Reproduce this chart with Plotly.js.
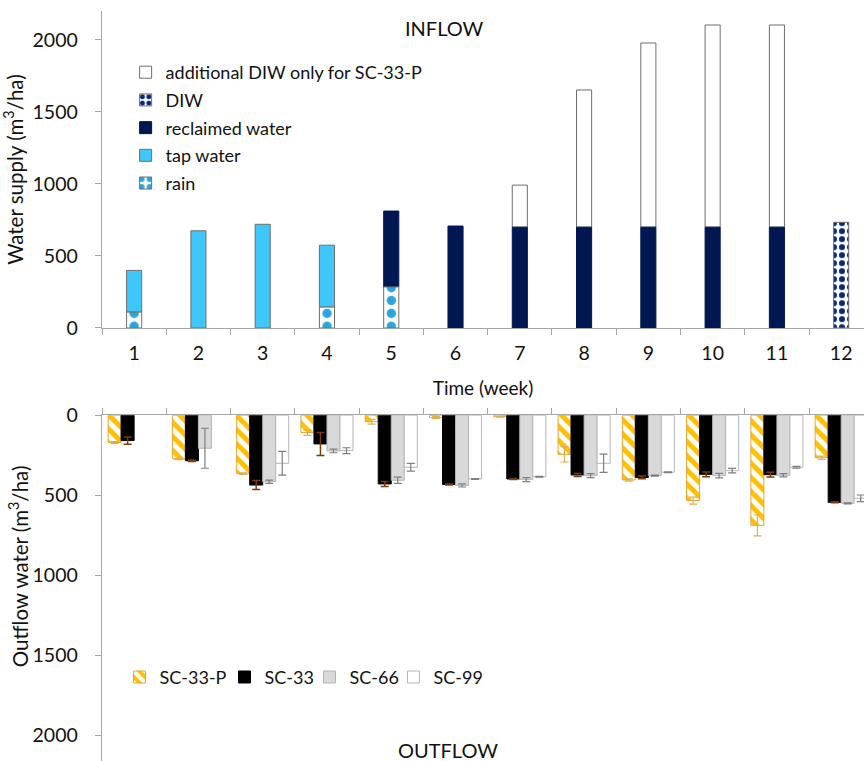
<!DOCTYPE html>
<html>
<head>
<meta charset="utf-8">
<script src="https://cdn.plot.ly/plotly-3.0.1.min.js"></script>
<style>html,body{margin:0;padding:0;background:#fff;}#chart{width:864px;height:761px;}</style>
</head>
<body>
<div id="chart"></div>
<script>
// ---- data ----
const weeks = ['1','2','3','4','5','6','7','8','9','10','11','12'];
// INFLOW (m3/ha)
const rain          = [110, null, null, 145, 285, null, null, null, null, null, null, null];
const tapWater      = [290, 675, 720, 430, null, null, null, null, null, null, null, null];
const reclaimed     = [null, null, null, null, 527, 708, 700, 700, 700, 700, 700, null];
const diw           = [null, null, null, null, null, null, null, null, null, null, null, 734];
const additionalDiw = [null, null, null, null, null, null, 292, 953, 1279, 1404, 1404, null];
// OUTFLOW (m3/ha)
const sc33p    = [170, 273, 365, 108, 40, 15, 9, 244, 404, 533, 688, 265];
const sc33pErr = [5, 4, 5, 17, 15, 5, 3, 48, 7, 22, 65, 10];
const sc33     = [158, 284, 436, 179, 429, 432, 398, 373, 388, 369, 371, 544];
const sc33Err  = [23, 5, 28, 72, 16, 3, 3, 10, 9, 15, 15, 3];
const sc66     = [null, 206, 415, 223, 406, 438, 402, 377, 377, 377, 375, 550];
const sc66Err  = [0, 125, 10, 11, 20, 10, 12, 12, 3, 14, 10, 3];
const sc99     = [null, null, 300, 221, 325, 398, 384, 300, 356, 346, 325, 519];
const sc99Err  = [0, 0, 74, 18, 24, 3, 3, 57, 3, 14, 6, 21];

// cumulative bases for stacked inflow
const v = a => a.map(x => x == null ? 0 : x);
const base1 = v(rain);
const base2 = base1.map((b, i) => b + v(tapWater)[i]);
const base3 = base2.map((b, i) => b + v(reclaimed)[i]);
const base4 = base3.map((b, i) => b + v(diw)[i]);

const FONT = 'Lato, "Open Sans", sans-serif';
const AX = '#a6a6a6';
const W = 0.235;
const outline = {color: '#6f6f6f', width: 1};

const traces = [
  {type:'bar', name:'additional DIW only for SC-33-P', x:weeks, y:additionalDiw, base:base4, width:W, offsetgroup:'in',
   xaxis:'x', yaxis:'y', legend:'legend', legendgroup:'g1',
   marker:{color:'#ffffff', line:outline}},
  {type:'bar', name:'DIW', x:weeks, y:diw, base:base3, width:W, offsetgroup:'in',
   xaxis:'x', yaxis:'y', legend:'legend', legendgroup:'g2',
   marker:{color:'#ffffff', line:outline, pattern:{shape:'.', fgcolor:'#0a2a78', bgcolor:'#ffffff', size:8, solidity:0.45}}},
  {type:'bar', name:'reclaimed water', x:weeks, y:reclaimed, base:base2, width:W, offsetgroup:'in',
   xaxis:'x', yaxis:'y', legend:'legend', legendgroup:'g3',
   marker:{color:'#001752', line:{color:'#001752', width:1}}},
  {type:'bar', name:'tap water', x:weeks, y:tapWater, base:base1, width:W, offsetgroup:'in',
   xaxis:'x', yaxis:'y', legend:'legend', legendgroup:'g4',
   marker:{color:'#3fc6fa', line:outline}},
  {type:'bar', name:'rain', x:weeks, y:rain, base:weeks.map(()=>0), width:W, offsetgroup:'in',
   xaxis:'x', yaxis:'y', legend:'legend', legendgroup:'g5',
   marker:{color:'#ffffff', line:outline, pattern:{shape:'.', fgcolor:'#2aa6de', bgcolor:'#ffffff', size:12.86, solidity:0.42}}},

  {type:'bar', name:'SC-33-P', x:weeks, y:sc33p, xaxis:'x2', yaxis:'y2', legend:'legend2', offsetgroup:'a',
   marker:{color:'#ffc000', line:{color:'#e5a530', width:1}, pattern:{shape:'\\', fgcolor:'#ffffff', bgcolor:'#ffc000', size:10, solidity:0.5}},
   error_y:{type:'data', array:sc33pErr, visible:true, color:'#e0ae55', thickness:1.2, width:4}},
  {type:'bar', name:'SC-33', x:weeks, y:sc33, xaxis:'x2', yaxis:'y2', legend:'legend3', offsetgroup:'b',
   marker:{color:'#000000', line:{color:'#000000', width:1}},
   error_y:{type:'data', array:sc33Err, visible:true, color:'#7a3c0c', thickness:1.5, width:4}},
  {type:'bar', name:'SC-66', x:weeks, y:sc66, xaxis:'x2', yaxis:'y2', legend:'legend4', offsetgroup:'c',
   marker:{color:'#d9d9d9', line:{color:'#b5b5b5', width:1}},
   error_y:{type:'data', array:sc66Err, visible:true, color:'#7f7f7f', thickness:1.2, width:4}},
  {type:'bar', name:'SC-99', x:weeks, y:sc99, xaxis:'x2', yaxis:'y2', legend:'legend5', offsetgroup:'d',
   marker:{color:'#ffffff', line:{color:'#b5b5b5', width:1}},
   error_y:{type:'data', array:sc99Err, visible:true, color:'#7f7f7f', thickness:1.2, width:4}}
];

const xr = [-0.5, 11.355];
const bottomLegend = x => ({orientation:'h', x:x, y:0.110, xanchor:'left', yanchor:'middle',
                            bgcolor:'rgba(0,0,0,0)', font:{size:18}});
const layout = {
  width:864, height:761,
  margin:{l:102, r:0, t:0, b:0},
  paper_bgcolor:'#ffffff', plot_bgcolor:'#ffffff',
  font:{family:FONT, size:18, color:'#111111'},
  barmode:'group', bargap:0.19, bargroupgap:0,
  showlegend:true,
  xaxis:{domain:[0,1], anchor:'y', type:'category', range:xr, showline:true, linecolor:AX, linewidth:1.3,
         ticks:'outside', tickson:'boundaries', ticklen:6, tickcolor:AX, showgrid:false, zeroline:false,
         tickfont:{size:19.5}, ticklabelstandoff:7, title:{text:'Time (week)', font:{size:19}, standoff:19}},
  yaxis:{domain:[0.569, 0.9853], anchor:'x', range:[0, 2200], dtick:500, showline:true, linecolor:AX, linewidth:1.3,
         ticks:'outside', ticklen:6, tickcolor:AX, showgrid:false, zeroline:false, tickfont:{size:19.5}, ticklabelstandoff:13,
         title:{text:'Water supply (m<sup>3</sup>/ha)', font:{size:20.5}, standoff:5}},
  xaxis2:{domain:[0,1], anchor:'y2', type:'category', range:xr, side:'top', showline:true, linecolor:AX, linewidth:1.3,
          ticks:'outside', tickson:'boundaries', ticklen:6, tickcolor:AX, showticklabels:false, showgrid:false, zeroline:false},
  yaxis2:{domain:[0, 0.4543], anchor:'x2', range:[2160, 0], dtick:500, showline:true, linecolor:AX, linewidth:1.3,
          ticks:'outside', ticklen:6, tickcolor:AX, showgrid:false, zeroline:false, tickfont:{size:19.5}, ticklabelstandoff:13},
  legend:{x:0.031, y:0.929, xanchor:'left', yanchor:'top', traceorder:'grouped', tracegroupgap:1.3,
          bgcolor:'rgba(0,0,0,0)', font:{size:18}},
  legend2: bottomLegend(0.023),
  legend3: bottomLegend(0.1608),
  legend4: bottomLegend(0.2723),
  legend5: bottomLegend(0.3825),
  annotations:[
    {text:'INFLOW', xref:'paper', yref:'paper', x:0.449, y:0.9626, xanchor:'center', yanchor:'middle', showarrow:false, font:{size:20}},
    {text:'OUTFLOW', xref:'paper', yref:'paper', x:0.454, y:0.0145, xanchor:'center', yanchor:'middle', showarrow:false, font:{size:20}},
    {text:'Outflow water (m<sup>3</sup>/ha)', textangle:-90, xref:'paper', yref:'paper', x:-0.110, y:(761-566)/761,
     xanchor:'center', yanchor:'middle', showarrow:false, font:{size:20.5}}
  ]
};

Plotly.newPlot('chart', traces, layout, {displayModeBar:false, staticPlot:true});
</script>
</body>
</html>
